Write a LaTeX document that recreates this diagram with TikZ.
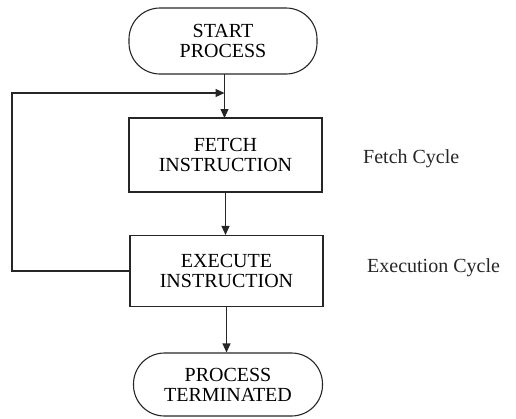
\documentclass[tikz,border=0pt]{standalone}
\usepackage{fontspec}
\setmainfont{Liberation Serif}
\usetikzlibrary{arrows.meta}
\begin{document}
\begin{tikzpicture}[x=1pt,y=1pt,
  ink/.style={draw=black!85, line width=1.1pt},
  terminal/.style={ink, rounded corners=31pt, align=center, font=\fontsize{20}{20}\selectfont, inner sep=0pt},
  stepbox/.style={ink, rectangle, align=center, font=\fontsize{20}{20}\selectfont, inner sep=0pt},
  note/.style={anchor=west, inner sep=0pt, font=\fontsize{20}{20}\selectfont, text=black!85},
  flow/.style={ink, -{Triangle[length=9pt,width=8pt]}}
]
\useasboundingbox (0,0) rectangle (516,-418);

% process steps
\node[terminal, minimum width=188pt, minimum height=66pt] (start) at (223,-41) {START\\PROCESS};
\node[stepbox, minimum width=193pt, minimum height=74pt] (fetch) at (225.5,-155) {FETCH\\INSTRUCTION};
\node[stepbox, minimum width=193pt, minimum height=71pt] (exec) at (226.5,-271) {EXECUTE\\INSTRUCTION};
\node[terminal, minimum width=189pt, minimum height=63pt] (stop) at (228,-384.5) {PROCESS\\TERMINATED};

% cycle labels
\node[note] (fcyc) at (363,-159) {Fetch Cycle};
\node[note] (ecyc) at (367,-268) {Execution Cycle};

% junction where the loop rejoins the main flow
\coordinate (join) at (224.5,-93);
\coordinate (corner) at (12,-93);

% main flow
\draw[flow] (224.5,-74) -- (224.5,-118);
\draw[flow] (fetch.south) -- (fetch.south |- exec.north);
\draw[flow] (exec.south) -- (exec.south |- stop.north);

% repeat loop back to the fetch step
\draw[flow] (exec.west) -| (corner) -- (join);
\end{tikzpicture}
\end{document}
